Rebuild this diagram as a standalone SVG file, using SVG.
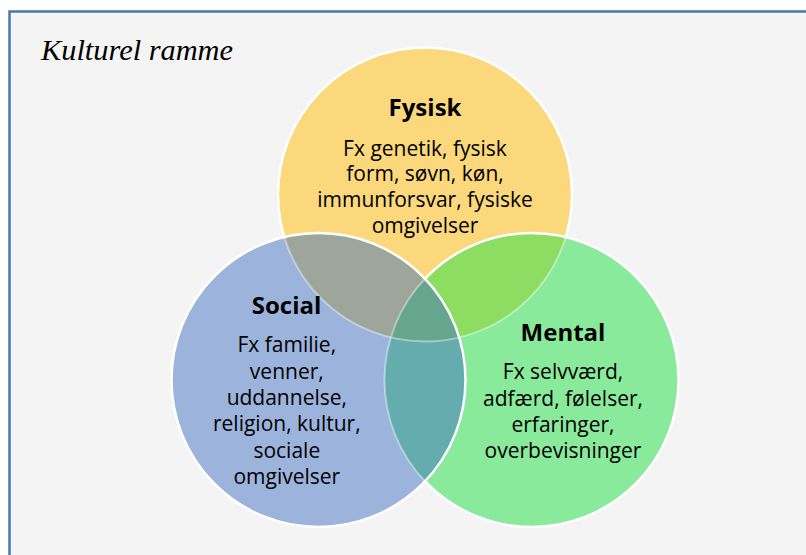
<svg xmlns="http://www.w3.org/2000/svg" width="806" height="555" viewBox="0 0 806 555">
  <style>
    .title { font-family: "Open Sans", "Noto Sans", sans-serif; font-weight: bold; font-size: 24px; fill: #000; text-anchor: middle; }
    .body { font-family: "Open Sans", "Noto Sans", sans-serif; font-size: 21px; fill: #000; text-anchor: middle; }
    .frame-label { font-family: "Liberation Serif", serif; font-style: italic; font-size: 29px; fill: #000; }
    .edge { fill: none; stroke: #ffffff; stroke-width: 2.5; }
    .faint { fill: none; stroke: #ffffff; stroke-opacity: 0.4; stroke-width: 2; }
  </style>
  <defs>
    <clipPath id="clipF"><circle cx="425" cy="194.5" r="147"/></clipPath>
    <clipPath id="clipM"><circle cx="531.5" cy="380" r="147"/></clipPath>
    <clipPath id="clipS"><circle cx="318.5" cy="380" r="147"/></clipPath>
  </defs>

  <rect x="0" y="0" width="806" height="555" fill="#ffffff"/>
  <g id="frame">
    <rect x="9.5" y="11.5" width="830" height="580" fill="#f4f4f4" stroke="#4a76a9" stroke-width="2.5"/>
    <text class="frame-label" x="41" y="60" textLength="192" lengthAdjust="spacingAndGlyphs">Kulturel ramme</text>
  </g>

  <g id="fysisk">
    <circle cx="425" cy="194.5" r="147" fill="#fbd87b"/>
    <circle class="edge" cx="425" cy="194.5" r="147"/>
  </g>

  <g id="mental">
    <circle cx="531.5" cy="380" r="147" fill="#8aea9c"/>
    <circle cx="425" cy="194.5" r="147" fill="#8ddd62" clip-path="url(#clipM)"/>
    <circle class="faint" cx="425" cy="194.5" r="147" clip-path="url(#clipM)"/>
    <circle class="edge" cx="531.5" cy="380" r="147"/>
  </g>

  <g id="social">
    <circle cx="318.5" cy="380" r="147" fill="#9cb4dc"/>
    <circle cx="425" cy="194.5" r="147" fill="#9ea59b" clip-path="url(#clipS)"/>
    <circle cx="531.5" cy="380" r="147" fill="#64acae" clip-path="url(#clipS)"/>
    <g clip-path="url(#clipS)">
      <circle cx="531.5" cy="380" r="147" fill="#66a68f" clip-path="url(#clipF)"/>
    </g>
    <g clip-path="url(#clipS)">
      <circle class="faint" cx="425" cy="194.5" r="147"/>
      <circle class="faint" cx="531.5" cy="380" r="147"/>
    </g>
    <circle class="edge" cx="318.5" cy="380" r="147"/>
  </g>

  <g id="fysisk-text">
    <text class="title" x="425" y="116">Fysisk</text>
    <text class="body" x="425" y="155.7">Fx genetik, fysisk</text>
    <text class="body" x="425" y="181.3">form, søvn, køn,</text>
    <text class="body" x="425" y="207.3">immunforsvar, fysiske</text>
    <text class="body" x="425" y="233.3">omgivelser</text>
  </g>

  <g id="social-text">
    <text class="title" x="286.5" y="314">Social</text>
    <text class="body" x="286.8" y="352.3">Fx familie,</text>
    <text class="body" x="286.8" y="378.6">venner,</text>
    <text class="body" x="286.8" y="404.9">uddannelse,</text>
    <text class="body" x="286.8" y="431.2">religion, kultur,</text>
    <text class="body" x="286.8" y="457.5">sociale</text>
    <text class="body" x="286.8" y="483.8">omgivelser</text>
  </g>

  <g id="mental-text">
    <text class="title" x="563" y="340.7">Mental</text>
    <text class="body" x="563" y="379.3">Fx selvværd,</text>
    <text class="body" x="563" y="405.6">adfærd, følelser,</text>
    <text class="body" x="563" y="431.9">erfaringer,</text>
    <text class="body" x="563" y="458.2">overbevisninger</text>
  </g>
</svg>
